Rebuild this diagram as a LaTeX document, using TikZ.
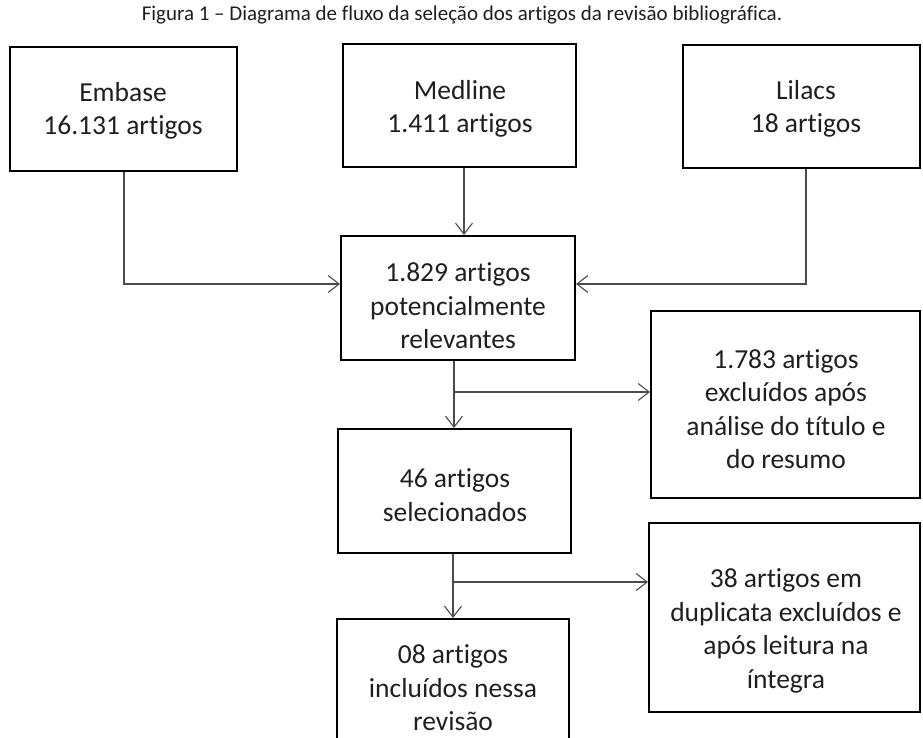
\documentclass[tikz,border=0pt]{standalone}
\usepackage{fontspec}
\setmainfont{Carlito}[RawFeature=-liga]
\usetikzlibrary{arrows.meta}
\begin{document}
\begin{tikzpicture}[x=1pt,y=-1pt,
  box/.style={draw=black,line width=2pt,inner sep=0pt},
  txt/.style={align=center,font=\fontsize{27.5}{33.5}\selectfont,inner sep=0pt,text=black!88},
  conn/.style={draw=black!70,line width=1.1pt},
  arr/.style={conn,-{Straight Barb[length=11pt,width=17pt,line width=1.1pt]}}]
\useasboundingbox (0,0) rectangle (923,738);
\clip (0,0) rectangle (923,738);
\node[font=\fontsize{21}{25}\selectfont,inner sep=0pt,text=black!88] (title) at (462,15) {Figura 1 – Diagrama de fluxo da seleção dos artigos da revisão bibliográfica.};
% boxes
\node[box,minimum width=227pt,minimum height=124pt] (emb) at (123.5,109) {};
\node[box,minimum width=233pt,minimum height=123pt] (med) at (459.5,105.5) {};
\node[box,minimum width=237pt,minimum height=123pt] (lil) at (801.5,106.5) {};
\node[box,minimum width=234pt,minimum height=124pt] (pot) at (458,298) {};
\node[box,minimum width=269pt,minimum height=187pt] (exc1) at (785.5,404.5) {};
\node[box,minimum width=233pt,minimum height=124pt] (sel) at (454.5,491) {};
\node[box,minimum width=271pt,minimum height=189pt] (exc2) at (784.5,617.5) {};
\node[box,minimum width=232pt,minimum height=160pt] (inc) at (453,699) {};
% texts
\node[txt] (tEmb) at (123,111) {Embase\\16.131 artigos};
\node[txt] (tMed) at (460,109) {Medline\\1.411 artigos};
\node[txt] (tLil) at (806,109) {Lilacs\\18 artigos};
\node[txt] (tPot) at (458,306) {1.829 artigos\\potencialmente\\relevantes};
\node[txt] (tExc1) at (786,409) {1.783 artigos\\excluídos após\\análise do título e\\do resumo};
\node[txt] (tSel) at (455,495) {46 artigos\\selecionados};
\node[txt] (tExc2) at (786,631) {38 artigos em\\duplicata excluídos e\\após leitura na\\íntegra};
\node[txt] (tInc) at (453,688) {08 artigos\\incluídos nessa\\revisão};
% connectors
\coordinate (j1) at (454,392);
\coordinate (j2) at (453,582);
\draw[arr] (emb.south -| 124,0) |- (pot.west |- 0,284);
\draw[arr] (lil.south -| 806,0) |- (pot.east |- 0,284);
\draw[arr] (med.south -| 464,0) -- (pot.north -| 464,0);
\draw[arr] (pot.south -| 454,0) -- (sel.north -| 454,0);
\draw[arr] (j1) -- (exc1.west |- j1);
\draw[arr] (sel.south -| 453,0) -- (inc.north -| 453,0);
\draw[arr] (j2) -- (exc2.west |- j2);
\end{tikzpicture}
\end{document}
